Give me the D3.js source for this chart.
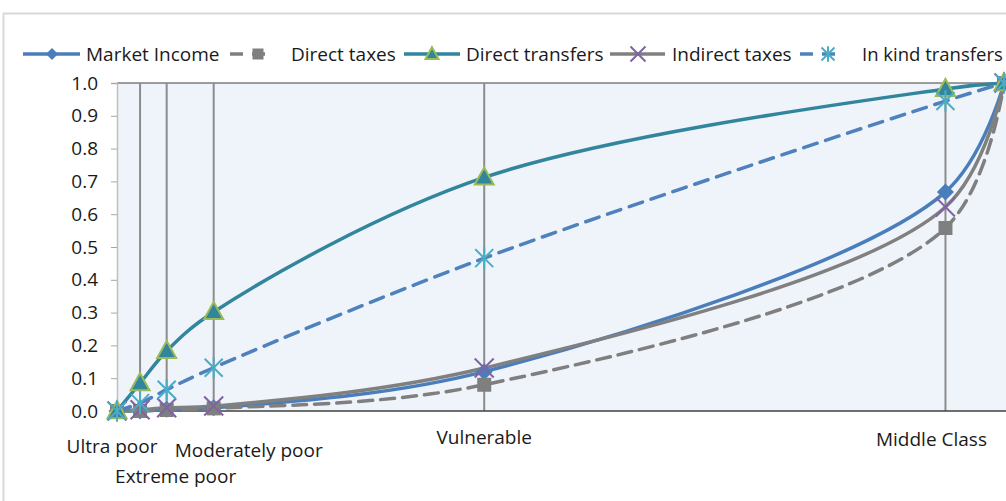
<!DOCTYPE html>
<html><head><meta charset="utf-8">
<script src="https://cdn.jsdelivr.net/npm/d3@7"></script>
<style>
body{margin:0;background:#fff;}
svg{display:block;font-family:"Open Sans",Lato,sans-serif;}
</style></head>
<body><svg id="c" width="1006" height="501"></svg>
<script>
// population share (cumulative) at each group boundary
const popShare = [0, 0.026, 0.056, 0.109, 0.414, 0.934, 1.0];
const categories = ["Ultra poor", "Extreme poor", "Moderately poor", "Vulnerable", "Middle Class"];
const seriesNames = ["Market Income", "Direct taxes", "Direct transfers", "Indirect taxes", "In kind transfers"];
const marketIncome    = [0, 0.000, 0.005, 0.010, 0.120, 0.668, 1.0];
const directTaxes     = [0, 0.000, 0.003, 0.008, 0.080, 0.558, 1.0];
const directTransfers = [0, 0.085, 0.183, 0.302, 0.712, 0.982, 1.0];
const indirectTaxes   = [0, 0.004, 0.010, 0.015, 0.131, 0.622, 1.0];
const inKindTransfers = [0, 0.024, 0.065, 0.132, 0.466, 0.945, 1.0];
const yTicks = [0, 0.1, 0.2, 0.3, 0.4, 0.5, 0.6, 0.7, 0.8, 0.9, 1.0];

(function(){
const FS = 19;
const svg = d3.select("#c");
const pL = 117, pR = 1004, pT = 83, pB = 411;
const x = d3.scaleLinear().domain([0, 1]).range([pL, pR]);
const y = d3.scaleLinear().domain([0, 1]).range([pB, pT]);

// outer frame
svg.append("rect").attr("x", 3.5).attr("y", 13.5).attr("width", 1020).attr("height", 520)
  .attr("fill", "#fff").attr("stroke", "#d9d9d9").attr("stroke-width", 2);

// plot background
svg.append("rect").attr("x", pL).attr("y", pT).attr("width", 1006 - pL).attr("height", pB - pT)
  .attr("fill", "#eff3fa");

// top border
svg.append("line").attr("x1", pL).attr("x2", 1006).attr("y1", pT).attr("y2", pT)
  .attr("stroke", "#404040").attr("stroke-width", 1.2);

// vertical group lines
svg.append("g").selectAll("line").data(popShare.slice(1, 6)).join("line")
  .attr("x1", d => x(d)).attr("x2", d => x(d)).attr("y1", pT).attr("y2", pB)
  .attr("stroke", "#8c8c8c").attr("stroke-width", 2);

// y axis
const yAxis = svg.append("g").attr("transform", `translate(${pL},0)`)
  .call(d3.axisLeft(y).tickValues(yTicks).tickFormat(d3.format(".1f")).tickSize(6).tickPadding(13));
yAxis.select(".domain").attr("stroke", "#bfbfbf").attr("stroke-width", 1.5);
yAxis.selectAll(".tick line").attr("stroke", "#a6a6a6");
yAxis.selectAll("text").attr("font-size", FS).attr("fill", "#1a1a1a").attr("font-family", "'Open Sans',sans-serif");

// x axis line (bottom)
svg.append("line").attr("x1", pL).attr("x2", 1006).attr("y1", pB).attr("y2", pB)
  .attr("stroke", "#404040").attr("stroke-width", 1.5);

// marker symbols
const sym = {
  diamond: s => `M0,${-s}L${s},0L0,${s}L${-s},0Z`,
  square: s => `M${-s},${-s}H${s}V${s}H${-s}Z`,
  triangle: s => `M0,${-s*1.05}L${s},${s*0.75}L${-s},${s*0.75}Z`,
  cross: s => `M${-s},${-s}L${s},${s}M${-s},${s}L${s},${-s}`,
  star: s => `M${-s},${-s}L${s},${s}M${-s},${s}L${s},${-s}M0,${-s*1.2}L0,${s*1.2}`
};

const series = [
  {name: seriesNames[0], values: marketIncome, color: "#4a7ebb", dash: null, marker: "diamond", mSize: 8.5, lSize: 6, mFill: "#4a7ebb", mStroke: "none", mw: 0},
  {name: seriesNames[1], values: directTaxes, color: "#7f7f7f", dash: "14,8", marker: "square", mSize: 7, lSize: 5.5, mFill: "#7f7f7f", mStroke: "none", mw: 0},
  {name: seriesNames[2], values: directTransfers, color: "#31859c", dash: null, marker: "triangle", mSize: 9.5, lSize: 6.5, mFill: "#31859c", mStroke: "#9bbb59", mw: 2},
  {name: seriesNames[3], values: indirectTaxes, color: "#808080", dash: null, marker: "cross", mSize: 9.5, lSize: 7.5, mFill: "none", mStroke: "#8064a2", mw: 2},
  {name: seriesNames[4], values: inKindTransfers, color: "#4f81bd", dash: "14,9", marker: "star", mSize: 9, lSize: 6.5, mFill: "none", mStroke: "#4bacc6", mw: 2}
];

const line = d3.line().x((d, i) => x(popShare[i])).y(d => y(d)).curve(d3.curveCatmullRom.alpha(0.5));

const lg = svg.append("g");
series.forEach(s => {
  lg.append("path").datum(s.values).attr("d", line).attr("fill", "none")
    .attr("stroke", s.color).attr("stroke-width", 3.5)
    .attr("stroke-dasharray", s.dash).attr("stroke-linecap", s.dash ? "round" : "butt");
});
series.forEach(s => {
  lg.append("g").selectAll("path").data(s.values).join("path")
    .attr("transform", (d, i) => `translate(${x(popShare[i])},${y(d)})`)
    .attr("d", sym[s.marker](s.mSize))
    .attr("fill", s.mFill).attr("stroke", s.mStroke).attr("stroke-width", s.mw);
});

// category labels under axis (nudged to avoid overlap)
const labelNudge = [[-5, 453], [9, 483], [35, 457], [0, 444], [-14, 446]];
svg.append("g").selectAll("text").data(categories).join("text")
  .attr("x", (d, i) => (i === 0 ? x(popShare[0]) : x(popShare[i + 1])) + labelNudge[i][0])
  .attr("y", (d, i) => labelNudge[i][1])
  .attr("text-anchor", "middle").attr("font-size", FS).attr("fill", "#1a1a1a")
  .text(d => d);

// legend
const legLine = [[23, 80], [230, 272], [404, 460], [610, 665], [800, 843]];
const legMark = [52, 258, 432, 638, 828];
const legText = [86, 291, 466, 672, 862];
const legY = 54;
const leg = svg.append("g");
series.forEach((s, i) => {
  const g = leg.append("g");
  g.append("line").attr("x1", legLine[i][0]).attr("x2", legLine[i][1]).attr("y1", legY).attr("y2", legY)
    .attr("stroke", s.color).attr("stroke-width", 3.5).attr("stroke-dasharray", s.dash ? "13,9" : null);
  g.append("path").attr("transform", `translate(${legMark[i]},${legY})`).attr("d", sym[s.marker](s.lSize))
    .attr("fill", s.mFill).attr("stroke", s.mStroke).attr("stroke-width", s.mw);
  g.append("text").attr("x", legText[i]).attr("y", legY + 7).attr("font-size", i === 4 ? 18.5 : FS).attr("fill", "#1a1a1a")
    .text(s.name);
});
})();
</script></body></html>
